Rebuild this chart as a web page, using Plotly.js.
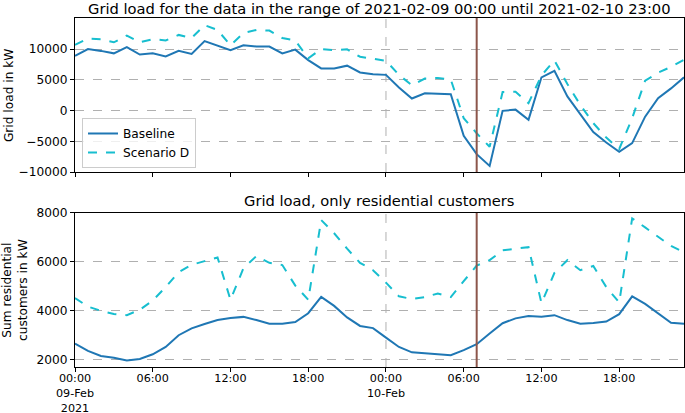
<!DOCTYPE html>
<html>
<head>
<meta charset="utf-8">
<script src="https://cdn.plot.ly/plotly-3.0.1.min.js"></script>
<style>html,body{margin:0;padding:0;background:#fff;}</style>
</head>
<body>
<div id="chart" style="width:685px;height:413px;"></div>
<script>
// ---- data ----
const days = ['2021-02-09', '2021-02-10'];
const times = [];
for (const d of days) {
  for (let h = 0; h < 24; h++) times.push(d + ' ' + String(h).padStart(2, '0') + ':00');
}
const baselineTotal = [8900,10000,9700,9300,10300,9100,9300,8800,9700,9200,
  11300,10600,9800,10600,10400,10400,9300,9900,8200,6850,
  6850,7300,6200,5900,
  5800,3750,1950,2800,2700,2650,-4100,-7100,-9000,-50,
  150,-1500,5400,6450,2300,-700,-3500,-5200,-6700,-5300,
  -1000,2000,3600,5400];
const scenarioTotal = [10700,11700,11600,11100,12200,11100,11600,11400,12300,11800,
  13900,13100,10600,12600,13100,13000,11800,11400,8500,10000,
  9800,9950,8750,8400,
  8100,5800,4100,5200,5300,5050,-1250,-3700,-5900,3000,
  3050,1200,5700,8150,4300,900,-2050,-4400,-6250,-1250,
  4850,6150,7100,8250];
const baselineRes = [2660,2360,2150,2080,1970,2030,2220,2520,3000,3280,
  3460,3620,3700,3750,3620,3470,3470,3540,3900,4570,
  4200,3730,3380,3290,
  2900,2520,2300,2260,2190,2180,2390,2630,3070,3490,
  3690,3790,3760,3820,3620,3470,3500,3560,3860,4590,
  4280,3900,3510,3470];
const scenarioRes = [4520,4170,4000,3870,3820,4040,4420,4970,5580,5880,
  6030,6180,4450,5740,6240,5960,5870,5030,4450,7710,
  7170,6540,5960,5660,
  5150,4590,4480,4560,4710,4560,5210,5850,6070,6470,
  6540,6600,4310,5550,6070,5660,5830,4970,4340,7780,
  7410,7040,6650,6400];
const seriesNames = ['Baseline', 'Scenario D'];
const xTickVals = ['2021-02-09 00:00','2021-02-09 06:00','2021-02-09 12:00','2021-02-09 18:00',
  '2021-02-10 00:00','2021-02-10 06:00','2021-02-10 12:00','2021-02-10 18:00'];
const xTickText = ['00:00<br>09-Feb<br>2021','06:00','12:00','18:00','00:00<br>10-Feb','06:00','12:00','18:00'];
const yTopTickVals = [-10000,-5000,0,5000,10000];
const yTopTickText = ['\u221210000','\u22125000','0','5000','10000'];
const yBotTickVals = [2000,4000,6000,8000];
const dayBoundary = '2021-02-10 00:00';
const markerTime = '2021-02-10 07:00';

// ---- styling ----
const FONT = 'DejaVu Sans, sans-serif';
const blue = '#1f77b4', cyan = '#17becf', brown = '#8c564b';
const gridCol = '#b0b0b0';

const traces = [
  {x: times, y: baselineTotal, name: seriesNames[0], type: 'scatter', mode: 'lines',
   line: {color: blue, width: 2}, xaxis: 'x', yaxis: 'y'},
  {x: times, y: scenarioTotal, name: seriesNames[1], type: 'scatter', mode: 'lines',
   line: {color: cyan, width: 2, dash: 'dash'}, xaxis: 'x', yaxis: 'y'},
  {x: times, y: baselineRes, name: seriesNames[0], type: 'scatter', mode: 'lines', showlegend: false,
   line: {color: blue, width: 2}, xaxis: 'x2', yaxis: 'y2'},
  {x: times, y: scenarioRes, name: seriesNames[1], type: 'scatter', mode: 'lines', showlegend: false,
   line: {color: cyan, width: 2, dash: 'dash'}, xaxis: 'x2', yaxis: 'y2'}
];

const xCommon = {
  type: 'date', range: [times[0], times[times.length - 1]],
  tickmode: 'array', tickvals: xTickVals, ticktext: xTickText,
  ticks: 'outside', ticklen: 4, tickcolor: '#000', tickwidth: 1,
  showgrid: false, zeroline: false,
  showline: true, mirror: true, linecolor: '#000', linewidth: 1,
  tickfont: {family: FONT, size: 11.2, color: '#000'}
};
const yCommon = {
  ticks: 'outside', ticklen: 4, tickcolor: '#000', tickwidth: 1,
  showgrid: true, gridcolor: gridCol, griddash: 'dash', gridwidth: 1,
  zeroline: false, showline: true, mirror: true, linecolor: '#000', linewidth: 1,
  tickfont: {family: FONT, size: 12.2, color: '#000'}
};

const layout = {
  width: 685, height: 413,
  margin: {l: 75, r: 1, t: 18, b: 46},
  paper_bgcolor: '#fff', plot_bgcolor: '#fff',
  font: {family: FONT, size: 12.2, color: '#000'},
  xaxis: Object.assign({}, xCommon, {anchor: 'y', showticklabels: false}),
  yaxis: Object.assign({}, yCommon, {domain: [0.5587, 1], range: [-10000, 15050],
    tickmode: 'array', tickvals: yTopTickVals, ticktext: yTopTickText}),
  xaxis2: Object.assign({}, xCommon, {anchor: 'y2', matches: 'x', ticklabelstandoff: -3}),
  yaxis2: Object.assign({}, yCommon, {domain: [0, 0.4413], range: [1700, 8000],
    tickmode: 'array', tickvals: yBotTickVals}),
  showlegend: true,
  legend: {x: 0.0115, y: 0.7135, xanchor: 'left', yanchor: 'top',
    bgcolor: 'rgba(255,255,255,0.8)', bordercolor: '#cccccc', borderwidth: 1,
    font: {family: FONT, size: 12.2, color: '#000'}, tracegroupgap: 0},
  shapes: [
    {type: 'line', xref: 'x', yref: 'y domain', x0: dayBoundary, x1: dayBoundary, y0: 0, y1: 1,
     line: {color: gridCol, width: 1, dash: 'dash'}, layer: 'below'},
    {type: 'line', xref: 'x2', yref: 'y2 domain', x0: dayBoundary, x1: dayBoundary, y0: 0, y1: 1,
     line: {color: gridCol, width: 1, dash: 'dash'}, layer: 'below'},
    {type: 'line', xref: 'x', yref: 'y domain', x0: markerTime, x1: markerTime, y0: 0, y1: 1,
     line: {color: brown, width: 2}},
    {type: 'line', xref: 'x2', yref: 'y2 domain', x0: markerTime, x1: markerTime, y0: 0, y1: 1,
     line: {color: brown, width: 2}}
  ],
  annotations: [
    {text: 'Grid load for the data in the range of 2021-02-09 00:00 until 2021-02-10 23:00',
     xref: 'paper', yref: 'paper', x: 0.5, y: 1.027, xanchor: 'center', yanchor: 'middle',
     showarrow: false, font: {family: FONT, size: 14.7, color: '#000'}},
    {text: 'Grid load, only residential customers',
     xref: 'paper', yref: 'paper', x: 0.5, y: 0.478, xanchor: 'center', yanchor: 'middle',
     showarrow: false, font: {family: FONT, size: 14.7, color: '#000'}},
    {text: 'Grid load in kW', textangle: -90,
     xref: 'paper', yref: 'paper', x: -0.1084, y: 0.779, xanchor: 'center', yanchor: 'middle',
     showarrow: false, font: {family: FONT, size: 12.2, color: '#000'}},
    {text: 'Sum residential<br>customers in kW', textangle: -90,
     xref: 'paper', yref: 'paper', x: -0.0985, y: 0.2206, xanchor: 'center', yanchor: 'middle',
     showarrow: false, font: {family: FONT, size: 12.2, color: '#000'}}
  ]
};

Plotly.newPlot('chart', traces, layout, {displayModeBar: false, staticPlot: true});
</script>
</body>
</html>
